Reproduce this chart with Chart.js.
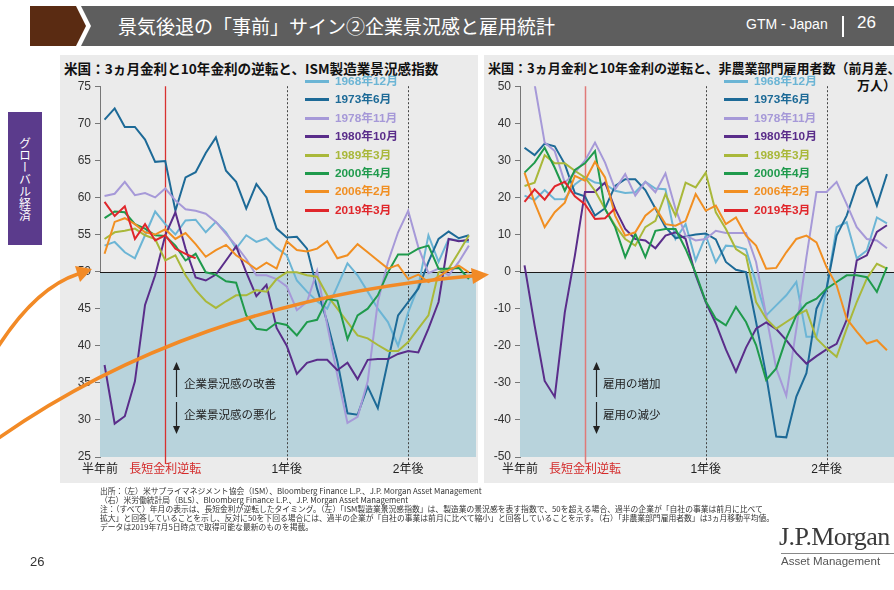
<!DOCTYPE html>
<html lang="ja">
<head>
<meta charset="UTF-8">
<title>景気後退の「事前」サイン②企業景況感と雇用統計</title>
<script src="https://cdn.jsdelivr.net/npm/chart.js"></script>
<style>
  body { margin:0; width:894px; height:590px; background:#fff; position:relative; overflow:hidden;
         font-family:"Liberation Sans","Noto Sans CJK JP",sans-serif; color:#222; }
  .abs { position:absolute; }
  .title { left:118px; top:12px; font-size:19px; color:#fff; white-space:nowrap; font-family:"Noto Sans CJK JP",sans-serif; }
  .gtm { left:746px; top:16px; font-size:14px; color:#fff; white-space:nowrap; }
  .bar { left:842px; top:16px; width:2px; height:21px; background:#fff; }
  .pg { left:857px; top:13px; font-size:17px; color:#fff; }
  .side { left:8px; top:112px; width:34px; height:133px; background:#5b3b8c; color:#fff;
          writing-mode:vertical-rl; font-size:12px; display:flex; align-items:center; justify-content:center;
          font-family:"Noto Sans CJK JP",sans-serif; }
  .panel { background:#ebebeb; top:55px; height:428px; overflow:hidden; }
  .ptitle { top:58px; font-size:13px; font-weight:bold; white-space:nowrap; color:#111;
            font-family:"Noto Sans CJK JP",sans-serif; }
  canvas { position:absolute; }
  .legend { font-size:11.8px; font-weight:bold; }
  .legend div { position:absolute; white-space:nowrap; height:18px; line-height:18px; }
  .legend span.ln { position:absolute; left:0; top:8px; width:24px; height:3px; }
  .legend span.tx { position:absolute; left:30px; }
  .note { font-size:11.5px; color:#222; white-space:nowrap; font-family:"Noto Sans CJK JP",sans-serif; }
  .foot { left:100px; top:486px; font-size:7.8px; line-height:9px; color:#333; white-space:nowrap;
          font-family:"Noto Sans CJK JP",sans-serif; }
  .pnum { left:30px; top:554px; font-size:13px; color:#333; }
  .jpm { left:779px; top:522px; font-family:"Liberation Serif","DejaVu Serif",serif; font-size:26px; color:#3a3a3a; letter-spacing:-0.6px; }
  .jpmline { left:781px; top:553px; width:113px; height:1px; background:#888; }
  .am { left:781px; top:555px; font-size:11.5px; color:#555; white-space:nowrap; }
</style>
</head>
<body>
<svg class="abs" style="left:0;top:0" width="894" height="50">
  <polygon points="30,6 76,6 86,26 76,46 30,46" fill="#5a2b12"/>
  <polygon points="81,6 894,6 894,46 81,46 91,26" fill="#5e5e5e"/>
</svg>
<div class="abs title">景気後退の「事前」サイン②企業景況感と雇用統計</div>
<div class="abs gtm">GTM - Japan</div>
<div class="abs bar"></div>
<div class="abs pg">26</div>
<div class="abs side">グローバル経済</div>

<div class="abs panel" style="left:60px;width:418px"></div>
<div class="abs panel" style="left:484px;width:410px"></div>
<div class="abs ptitle" style="left:64px;font-size:13.6px">米国：3ヵ月金利と10年金利の逆転と、ISM製造業景況感指数</div>
<div class="abs ptitle" style="left:488px">米国：3ヵ月金利と10年金利の逆転と、非農業部門雇用者数（前月差、</div>
<div class="abs ptitle" style="left:857px;top:75px">万人）</div>

<canvas id="ism" width="420" height="405" style="left:60px;top:75px"></canvas>
<canvas id="nfp" width="414" height="405" style="left:480px;top:75px"></canvas>

<div class="abs legend" id="leg1" style="left:305px;top:72px"></div>
<div class="abs legend" id="leg2" style="left:724px;top:72px"></div>

<div class="abs note" style="left:184px;top:375px">企業景況感の改善</div>
<div class="abs note" style="left:184px;top:406px">企業景況感の悪化</div>
<div class="abs note" style="left:603px;top:375px">雇用の増加</div>
<div class="abs note" style="left:603px;top:406px">雇用の減少</div>
<svg class="abs" style="left:0;top:0" width="894" height="590">
  <g stroke="#222" stroke-width="1.2" fill="#222">
    <line x1="176.5" y1="368" x2="176.5" y2="397"/>
    <polygon points="176.5,362 173,370 180,370" stroke="none"/>
    <line x1="176.5" y1="402" x2="176.5" y2="428"/>
    <polygon points="176.5,434 173,426 180,426" stroke="none"/>
    <line x1="596.5" y1="368" x2="596.5" y2="397"/>
    <polygon points="596.5,362 593,370 600,370" stroke="none"/>
    <line x1="596.5" y1="402" x2="596.5" y2="428"/>
    <polygon points="596.5,434 593,426 600,426" stroke="none"/>
  </g>
  <g stroke="#f28a26" stroke-width="3.5" fill="none" stroke-linecap="round">
    <path d="M -4 350 Q 35 288 78 274"/>
    <path d="M -4 440 C 120 352, 280 292, 472 276"/>
  </g>
  <g fill="#f28a26">
    <polygon points="92,269 80,282 75,266"/>
    <polygon points="489,274.5 473,284 471,268"/>
  </g>
</svg>

<div class="abs foot">出所：（左）米サプライマネジメント協会（ISM）、Bloomberg Finance L.P.、J.P. Morgan Asset Management<br>（右）米労働統計局（BLS）、Bloomberg Finance L.P.、J.P. Morgan Asset Management<br>注：（すべて）年月の表示は、長短金利が逆転したタイミング。（左）「ISM製造業景況感指数」は、製造業の景況感を表す指数で、50を超える場合、過半の企業が「自社の事業は前月に比べて<br>拡大」と回答していることを示し、反対に50を下回る場合には、過半の企業が「自社の事業は前月に比べて縮小」と回答していることを示す。（右）「非農業部門雇用者数」は3ヵ月移動平均値。<br>データは2019年7月5日時点で取得可能な最新のものを掲載。</div>
<div class="abs pnum">26</div>
<div class="abs jpm">J.P.Morgan</div>
<div class="abs jpmline"></div>
<div class="abs am">Asset Management</div>

<script>
// 月（長短金利逆転からの経過月数）
const months = [-6,-5,-4,-3,-2,-1,0,1,2,3,4,5,6,7,8,9,10,11,12,13,14,15,16,17,18,19,20,21,22,23,24,25,26,27,28,29,30];
const seriesNames = ['1968年12月','1973年6月','1978年11月','1980年10月','1989年3月','2000年4月','2006年2月','2019年3月'];
const seriesColors = ['#6cb5d5','#1d6a97','#a699d8','#5a2d8a','#a9b83a','#1f9a4c','#f18f22','#e0262b'];

const xTickMonths = [-6.45, 0, 12, 24];
const xTickLabels = ['半年前','長短金利逆転','1年後','2年後'];

// ISM製造業景況感指数
const ism1968 = [53.5,54,52.6,51.8,54.9,58.1,56.4,55,56.9,57,55.3,56.7,55.3,53.1,54.9,54,54.5,53.2,52.2,48.8,47.3,46,45,48,51.1,49.5,47.3,45,43.2,40,44.5,48,54.9,51.3,54.4,54.2,54];
const ism1973 = [70.5,72,69.5,69.5,67.8,64.8,64.9,58.2,62.7,63.4,66,68.1,63.6,62.1,58.5,61.8,60,55.8,54.6,54.7,53.1,47.7,43.2,37.9,30.9,30.7,34.5,31.6,37.9,44.1,45.9,47.7,51.3,54.4,55.4,54.5,54.9];
const ism1978 = [60.2,60.5,62.1,60.3,60.6,60,61.2,59.6,58.4,58.2,57.8,56.7,55.1,53.5,51.7,49.5,49.5,49,48,44.8,45.9,50.1,42.8,36,29.6,30.4,35.2,45.9,51.3,55.3,58.2,53.3,49.8,50.4,49.5,51.3,53.5];
const ism1980 = [37.4,29.5,30.5,35.2,45.5,49.5,54.9,58,53.1,49.2,48.8,49.6,51.5,53.4,49.9,46.7,48.2,42.4,40,36.2,37.7,38.1,38.1,36.7,37.7,35.5,38.1,38.2,38.2,38.9,39.3,39.1,42.3,45.9,54.4,54.1,54.3];
const ism1989 = [54.4,55.3,55.5,55.8,54.9,54.4,51.5,52.2,49.5,47.5,46,45.1,46,46.8,46.8,47.5,47.3,49,49.9,49.9,49.5,49.3,46.8,45,43.2,41.4,41,40.1,39.3,39.3,40.5,42.3,44.1,49.9,50.4,52.6,54.9];
const ism2000 = [57.2,58.1,58,56.4,55.8,54.9,54.8,53.5,51.5,52.4,49.9,49.6,48.7,48.5,44.1,42.3,42.1,43.1,42.8,41.4,43.2,43.5,46.3,46.1,40.9,44.1,45,46.8,49.9,52.3,52.3,53.1,53.5,50.4,50.4,50.5,49];
const ism2006 = [52.4,56.7,57.2,56.4,55.3,55,55.7,54.4,55.2,53.7,52,52.9,53.6,52.2,51.3,50.3,51.2,50.4,54.1,52.9,52.7,53.1,54.1,51.8,52.2,53.7,52.6,51.5,50.4,50.9,49,49.6,48.6,49.3,50.2,50.8,49.9];
const ism2019 = [59.4,57.5,58.8,54.4,56.4,54.2,54.9,53.1,52.4,51.8];

// 非農業部門雇用者数（前月差、万人）
const nfp1968 = [20.5,19.3,22,19.5,19.6,23.5,25.5,24,23.6,21.8,21.2,21.4,24.2,22.4,22.2,8.8,12.8,3,9.7,2.5,7,6.8,6,-3,-11.8,-9.1,-6.4,-2.8,-17.6,-17.6,-4.6,12,13.3,3.6,5.7,14.6,13];
const nfp1973 = [33.4,31.4,34.5,33.8,29,21.2,20.3,15.1,17.1,23.1,24.9,24.9,22,17,12,9,9.5,10,10.3,8.7,2.6,0.5,-0.1,-13.6,-27.9,-44.5,-44.7,-33.7,-27.4,-10,-4.6,9.7,15.1,23.1,25.4,17.8,26.3];
const nfp1978 = [62,50.5,34.8,32.5,24,26.7,29.9,34.8,29.4,22.2,26.3,20.5,24.2,21.4,26.5,16.9,9.7,8.4,8.8,11,10.4,10.4,10.4,2.6,-11.8,-26.1,-33.5,-15.4,3.9,21.5,21.5,24.2,18.2,12,8.8,8.4,6.3];
const nfp1980 = [1.7,-14.5,-29.5,-33.8,-11,4.3,21.5,21.5,24,16.9,11.5,8.8,8.4,6.3,9.7,10.6,8.8,-1,-8.2,-14,-21,-27,-20.5,-15.4,-13.7,-15.5,-18.5,-22,-24.8,-22.8,-21,-19.5,-13,3,4.4,10.7,12.5];
const nfp1989 = [23.1,24,31.4,29.2,29.2,27.2,25.4,21.8,16.9,12.4,8.8,7,12,13.7,20.9,15.1,24,22.7,26.7,16,11.5,6.1,4.3,-8.2,-12.7,-15.4,-13.6,-11.8,-10.4,-18,-20.7,-23,-15.4,-8.2,-1.9,2.1,0.8];
const nfp2000 = [26.7,29.4,33.4,28,21.8,27.4,29.2,32.5,16.9,12,3.9,10.2,3.9,11,11.5,11.5,6.1,-0.4,-8,-12.7,-14.5,-9.5,-13.6,-19.8,-29.2,-26.1,-18,-11.8,-8.6,-7.3,-4.6,-2.8,-1,-1,-1.5,-5.5,1.2];
const nfp2006 = [26.7,18.6,12,16,18.6,25.8,24.5,29.6,25.4,15.1,9.7,10.6,15.1,17.3,12.8,12.4,13.7,20.9,16.4,17.8,12.8,14.6,9.7,7,0.8,1,5.2,8.8,9.7,7.9,1.2,-3.7,-12.7,-16.2,-19.4,-18.5,-21.2];
const nfp2019 = [18.8,22.2,19.4,23,24.2,20.3,18.2,14.2,14.4,17.1];

const ismSeries = [ism1968, ism1973, ism1978, ism1980, ism1989, ism2000, ism2006, ism2019];
const nfpSeries = [nfp1968, nfp1973, nfp1978, nfp1980, nfp1989, nfp2000, nfp2006, nfp2019];

Chart.defaults.font.family = '"Liberation Sans","Noto Sans CJK JP",sans-serif';
Chart.defaults.color = '#222';

// 背景（基準線より下を塗る）と縦線
const bandPlugin = {
  id: 'band',
  beforeDatasetsDraw(chart, args, opts) {
    const ctx = chart.ctx, a = chart.chartArea;
    const x = chart.scales.x, y = chart.scales.y;
    const yb = Math.round(y.getPixelForValue(opts.base));
    ctx.save();
    ctx.fillStyle = '#b8d3dc';
    ctx.fillRect(a.left, yb, a.right - a.left, a.bottom - yb);
    ctx.strokeStyle = '#1a1a1a';
    ctx.lineWidth = 1;
    ctx.beginPath();
    ctx.moveTo(a.left, yb + 0.5);
    ctx.lineTo(a.right, yb + 0.5);
    ctx.stroke();
    const xr = Math.round(x.getPixelForValue(0)) + 0.5;
    ctx.strokeStyle = opts.red;
    ctx.lineWidth = opts.redWidth;
    ctx.beginPath();
    ctx.moveTo(xr, a.top);
    ctx.lineTo(xr, a.bottom + 7);
    ctx.stroke();
    ctx.strokeStyle = '#444';
    ctx.lineWidth = 1;
    ctx.setLineDash([2, 2]);
    [12, 24].forEach(m => {
      const xd = Math.round(x.getPixelForValue(m)) + 0.5;
      ctx.beginPath();
      ctx.moveTo(xd, a.top);
      ctx.lineTo(xd, a.bottom + 7);
      ctx.stroke();
    });
    ctx.restore();
  }
};

function makeChart(id, seriesList, yMin, yMax, step, base, red, redWidth, padRight) {
  const datasets = seriesList.map((vals, i) => ({
    label: seriesNames[i],
    data: vals.map((v, k) => ({ x: months[k], y: v })),
    borderColor: seriesColors[i],
    borderWidth: 2,
    pointRadius: 0,
    tension: 0,
    fill: false,
    order: seriesList.length - i
  }));
  return new Chart(document.getElementById(id), {
    type: 'line',
    data: { datasets },
    plugins: [bandPlugin],
    options: {
      responsive: false,
      animation: false,
      layout: { padding: { top: 10, right: padRight, left: 0, bottom: 0 } },
      plugins: {
        legend: { display: false },
        tooltip: { enabled: false },
        band: { base, red, redWidth }
      },
      scales: {
        x: {
          type: 'linear', min: -6.45, max: 30.7,
          afterBuildTicks(s) { s.ticks = xTickMonths.map(v => ({ value: v })); },
          afterFit(s) { s.height = 23; },
          grid: { display: false, drawTicks: false },
          border: { display: false },
          ticks: {
            autoSkip: false, maxRotation: 0, padding: 5,
            font: { size: 12 },
            color: c => (c.index === 1 ? '#d42a2a' : '#222'),
            callback: (v, i) => xTickLabels[i]
          }
        },
        y: {
          min: yMin, max: yMax,
          afterFit(s) { s.width = 40; },
          grid: { drawOnChartArea: false, drawTicks: true, tickLength: 5, color: '#777' },
          border: { color: '#777' },
          ticks: { stepSize: step, padding: 4, font: { size: 12 }, color: '#333' }
        }
      }
    }
  });
}

makeChart('ism', ismSeries, 25, 75, 5, 50, '#d8312f', 1.3, 4);
makeChart('nfp', nfpSeries, -50, 50, 10, 0, '#e07a78', 1.5, 0);

// 凡例
['leg1', 'leg2'].forEach(id => {
  const box = document.getElementById(id);
  seriesNames.forEach((name, i) => {
    const item = document.createElement('div');
    item.style.top = (i * 18.4) + 'px';
    item.innerHTML = '<span class="ln" style="background:' + seriesColors[i] + '"></span>' +
      '<span class="tx" style="color:' + seriesColors[i] + '">' + name + '</span>';
    box.appendChild(item);
  });
});
</script>
</body>
</html>
